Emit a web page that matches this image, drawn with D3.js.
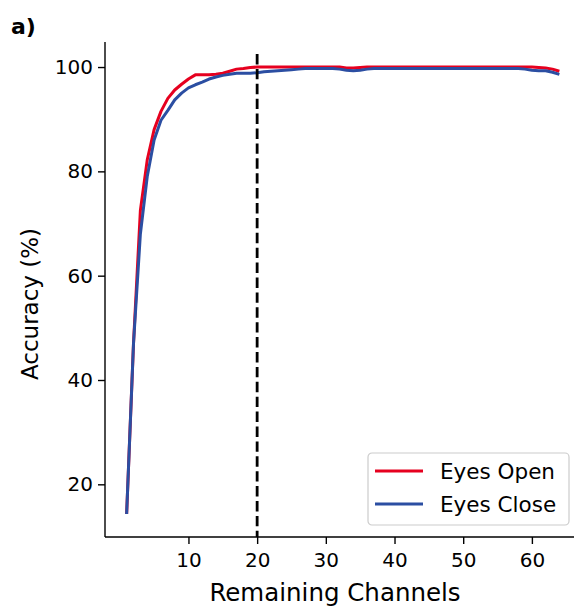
<!DOCTYPE html>
<html>
<head>
  <meta charset="UTF-8">
  <title>Accuracy vs Remaining Channels</title>
  <script src="https://cdn.jsdelivr.net/npm/d3@7"></script>
  <style>
    body { margin: 0; background: #fff; }
    svg { font-family: 'DejaVu Sans', sans-serif; }
    .axis path, .axis line { stroke: #000; stroke-width: 1.4; }
    .axis text { font-size: 20px; fill: #000; }
  </style>
</head>
<body>
<svg id="chart" width="574" height="609"></svg>
<script>

// channels 1..64
const channels = d3.range(1, 65);

const eyesOpen = [
  14.3, 47.0, 72.5, 82.2, 88.0, 91.5, 94.0, 95.6, 96.7, 97.7,
  98.5, 98.5, 98.5, 98.6, 98.8, 99.2, 99.6, 99.7, 99.9, 100,
  100, 100, 100, 100, 100, 100, 100, 100, 100, 100,
  100, 100, 99.8, 99.8, 99.9, 100, 100, 100, 100, 100,
  100, 100, 100, 100, 100, 100, 100, 100, 100, 100,
  100, 100, 100, 100, 100, 100, 100, 100, 100, 100,
  99.9, 99.8, 99.6, 99.2
];

const eyesClose = [
  14.3, 47.0, 68.0, 79.0, 86.0, 89.8, 91.7, 93.7, 95.0, 96.0,
  96.6, 97.1, 97.7, 98.1, 98.4, 98.6, 98.8, 98.8, 98.8, 98.9,
  99.1, 99.2, 99.3, 99.4, 99.5, 99.6, 99.7, 99.7, 99.7, 99.7,
  99.7, 99.6, 99.4, 99.3, 99.4, 99.6, 99.7, 99.7, 99.7, 99.7,
  99.7, 99.7, 99.7, 99.7, 99.7, 99.7, 99.7, 99.7, 99.7, 99.7,
  99.7, 99.7, 99.7, 99.7, 99.7, 99.7, 99.7, 99.7, 99.6, 99.4,
  99.3, 99.3, 99.0, 98.6
];

const xTicks = [10, 20, 30, 40, 50, 60];
const yTicks = [20, 40, 60, 80, 100];
const cutoff = 20;

const series = [
  { name: "Eyes Open", values: eyesOpen, color: "#e6001f" },
  { name: "Eyes Close", values: eyesClose, color: "#2b4ea2" }
];

const svg = d3.select("#chart");

// axes box (right side runs off the picture)
const axLeft = 105, axRight = 581, axTop = 42, axBottom = 537;

const x = d3.scaleLinear().domain([-2.15, 67.15]).range([axLeft, axRight]);
const y = d3.scaleLinear().domain([9.9, 104.8]).range([axBottom, axTop]);

// lines
const line = d3.line()
  .x((d, i) => x(channels[i]))
  .y(d => y(d));

series.forEach(s => {
  svg.append("path")
    .datum(s.values)
    .attr("d", line)
    .attr("fill", "none")
    .attr("stroke", s.color)
    .attr("stroke-width", 3)
    .attr("stroke-linejoin", "round")
    .attr("stroke-linecap", "butt");
});

// dashed cut-off
svg.append("line")
  .attr("x1", x(cutoff)).attr("x2", x(cutoff))
  .attr("y1", y(102.5)).attr("y2", axBottom)
  .attr("stroke", "#000")
  .attr("stroke-width", 2.8)
  .attr("stroke-dasharray", "10.4,4.5");

// axes
const xAxis = d3.axisBottom(x).tickValues(xTicks).tickSize(7).tickPadding(9);
const yAxis = d3.axisLeft(y).tickValues(yTicks).tickSize(7).tickPadding(5);

svg.append("g")
  .attr("class", "axis")
  .attr("transform", "translate(0," + axBottom + ")")
  .call(xAxis)
  .call(g => g.select(".domain").attr("d", "M" + axLeft + ",0H" + axRight));

svg.append("g")
  .attr("class", "axis")
  .attr("transform", "translate(" + axLeft + ",0)")
  .call(yAxis)
  .call(g => g.select(".domain").attr("d", "M0," + axTop + "V" + axBottom));

svg.selectAll(".axis text").attr("font-family", "'DejaVu Sans', sans-serif");

// axis labels
svg.append("text")
  .attr("x", 335)
  .attr("y", 601)
  .attr("text-anchor", "middle")
  .attr("font-size", 24.5)
  .text("Remaining Channels");

svg.append("text")
  .attr("transform", "translate(38," + 304 + ") rotate(-90)")
  .attr("text-anchor", "middle")
  .attr("font-size", 23)
  .text("Accuracy (%)");

// panel label
svg.append("text")
  .attr("x", 11)
  .attr("y", 34)
  .attr("font-size", 22)
  .attr("font-weight", "bold")
  .text("a)");

// legend
const legend = svg.append("g").attr("transform", "translate(368,453)");

legend.append("rect")
  .attr("width", 201)
  .attr("height", 72)
  .attr("rx", 4)
  .attr("fill", "#fff")
  .attr("fill-opacity", 0.8)
  .attr("stroke", "#cccccc")
  .attr("stroke-width", 1.2);

series.forEach((s, i) => {
  const cy = 18 + i * 33;
  legend.append("line")
    .attr("x1", 7).attr("x2", 55)
    .attr("y1", cy).attr("y2", cy)
    .attr("stroke", s.color)
    .attr("stroke-width", 3);
  legend.append("text")
    .attr("x", 72)
    .attr("y", cy + 8)
    .attr("font-size", 21.5)
    .text(s.name);
});

</script>
</body>
</html>
